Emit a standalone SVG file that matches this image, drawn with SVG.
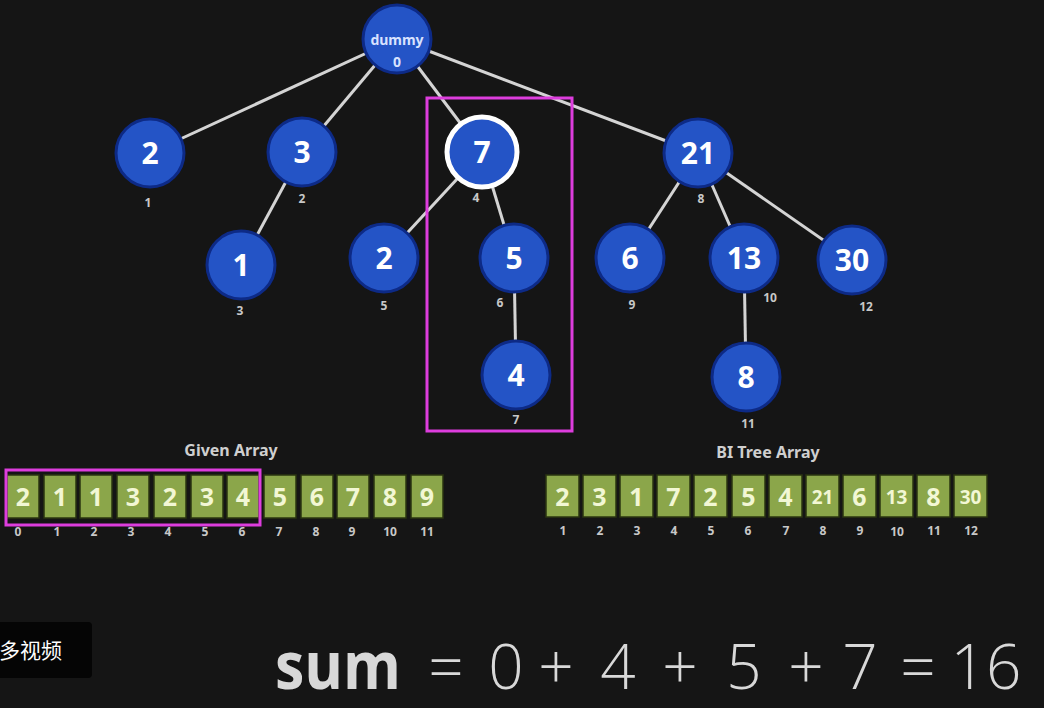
<svg xmlns="http://www.w3.org/2000/svg" width="1044" height="708" viewBox="0 0 1044 708">
<style>
.bg{fill:#151515}
.edge{stroke:#d4d4d4;stroke-width:3;fill:none}
.node{fill:#2454c6;stroke:#0d2a86;stroke-width:3}
.hl{fill:#2454c6;stroke:#ffffff;stroke-width:5}
.nt{font-family:"Noto Sans","DejaVu Sans",sans-serif;font-weight:bold;font-size:30px;fill:#ffffff;text-anchor:middle}
.idx{font-family:"Noto Sans","DejaVu Sans",sans-serif;font-weight:bold;font-size:12px;fill:#c8c8c8;text-anchor:middle}
.cell{fill:#8ba64a;stroke:#2a3410;stroke-width:1.5}
.ct{font-family:"Noto Sans","DejaVu Sans",sans-serif;font-weight:bold;font-size:25px;fill:#f2f7d4;text-anchor:middle}
.cts{font-size:19px}
.title{font-family:"Noto Sans","DejaVu Sans",sans-serif;font-weight:bold;font-size:16px;fill:#cfcfcf;text-anchor:middle}
.mag{fill:none;stroke:#dd3ddd;stroke-width:3}
</style>
<rect class="bg" x="0" y="0" width="1044" height="708"/>

<g id="connectors">
<line class="edge" x1="397" y1="39" x2="150" y2="153"/>
<line class="edge" x1="397" y1="39" x2="302" y2="152"/>
<line class="edge" x1="397" y1="39" x2="482" y2="152"/>
<line class="edge" x1="397" y1="39" x2="698" y2="153"/>
<line class="edge" x1="302" y1="152" x2="241" y2="265"/>
<line class="edge" x1="482" y1="152" x2="384" y2="258"/>
<line class="edge" x1="482" y1="152" x2="514" y2="258"/>
<line class="edge" x1="514" y1="258" x2="516" y2="375"/>
<line class="edge" x1="698" y1="153" x2="630" y2="258"/>
<line class="edge" x1="698" y1="153" x2="744" y2="258"/>
<line class="edge" x1="698" y1="153" x2="852" y2="260"/>
<line class="edge" x1="744" y1="258" x2="746" y2="377"/>
</g>

<g id="node-dummy">
<circle class="node" cx="397" cy="39" r="34"/>
<text x="397" y="45" text-anchor="middle" font-family="Noto Sans, DejaVu Sans, sans-serif" font-weight="bold" font-size="14" fill="#d8e2ff">dummy</text>
<text x="397" y="67" text-anchor="middle" font-family="Noto Sans, DejaVu Sans, sans-serif" font-weight="bold" font-size="14" fill="#d8e2ff">0</text>
</g>
<g id="node-1"><circle class="node" cx="150" cy="153" r="34"/><text class="nt" x="150" y="164">2</text><text class="idx" x="148" y="207">1</text></g>
<g id="node-2"><circle class="node" cx="302" cy="152" r="34"/><text class="nt" x="302" y="163">3</text><text class="idx" x="302" y="203">2</text></g>
<g id="node-3"><circle class="node" cx="241" cy="265" r="34"/><text class="nt" x="241" y="276">1</text><text class="idx" x="240" y="315">3</text></g>
<g id="node-4"><circle class="hl" cx="482" cy="152" r="35"/><text class="nt" x="482" y="163">7</text><text class="idx" x="476" y="202">4</text></g>
<g id="node-5"><circle class="node" cx="384" cy="258" r="34"/><text class="nt" x="384" y="269">2</text><text class="idx" x="384" y="310">5</text></g>
<g id="node-6"><circle class="node" cx="514" cy="258" r="34"/><text class="nt" x="514" y="269">5</text><text class="idx" x="500" y="307">6</text></g>
<g id="node-7"><circle class="node" cx="516" cy="375" r="34"/><text class="nt" x="516" y="386">4</text><text class="idx" x="516" y="424">7</text></g>
<g id="node-8"><circle class="node" cx="698" cy="153" r="34"/><text class="nt" x="698" y="164">21</text><text class="idx" x="701" y="203">8</text></g>
<g id="node-9"><circle class="node" cx="630" cy="258" r="34"/><text class="nt" x="630" y="269">6</text><text class="idx" x="632" y="309">9</text></g>
<g id="node-10"><circle class="node" cx="744" cy="258" r="34"/><text class="nt" x="744" y="269">13</text><text class="idx" x="770" y="302">10</text></g>
<g id="node-11"><circle class="node" cx="746" cy="377" r="34"/><text class="nt" x="746" y="388">8</text><text class="idx" x="748" y="428">11</text></g>
<g id="node-12"><circle class="node" cx="852" cy="260" r="34"/><text class="nt" x="852" y="271">30</text><text class="idx" x="866" y="311">12</text></g>

<rect id="highlight-tree" class="mag" x="427" y="98" width="145" height="333"/>

<g id="given-array">
<text class="title" x="231" y="456">Given Array</text>
<rect class="cell" x="7" y="475" width="32" height="43"/><text class="ct" x="23" y="506">2</text>
<rect class="cell" x="44" y="475" width="32" height="43"/><text class="ct" x="60" y="506">1</text>
<rect class="cell" x="80" y="475" width="32" height="43"/><text class="ct" x="96" y="506">1</text>
<rect class="cell" x="117" y="475" width="32" height="43"/><text class="ct" x="133" y="506">3</text>
<rect class="cell" x="154" y="475" width="32" height="43"/><text class="ct" x="170" y="506">2</text>
<rect class="cell" x="191" y="475" width="32" height="43"/><text class="ct" x="207" y="506">3</text>
<rect class="cell" x="227" y="475" width="32" height="43"/><text class="ct" x="243" y="506">4</text>
<rect class="cell" x="264" y="475" width="32" height="43"/><text class="ct" x="280" y="506">5</text>
<rect class="cell" x="301" y="475" width="32" height="43"/><text class="ct" x="317" y="506">6</text>
<rect class="cell" x="337" y="475" width="32" height="43"/><text class="ct" x="353" y="506">7</text>
<rect class="cell" x="374" y="475" width="32" height="43"/><text class="ct" x="390" y="506">8</text>
<rect class="cell" x="411" y="475" width="32" height="43"/><text class="ct" x="427" y="506">9</text>
<text class="idx" x="18" y="536">0</text>
<text class="idx" x="57" y="536">1</text>
<text class="idx" x="94" y="536">2</text>
<text class="idx" x="131" y="536">3</text>
<text class="idx" x="168" y="536">4</text>
<text class="idx" x="205" y="536">5</text>
<text class="idx" x="242" y="536">6</text>
<text class="idx" x="279" y="536">7</text>
<text class="idx" x="316" y="536">8</text>
<text class="idx" x="352" y="536">9</text>
<text class="idx" x="390" y="536">10</text>
<text class="idx" x="427" y="536">11</text>
</g>
<rect id="highlight-array" class="mag" x="6" y="470" width="254" height="55"/>

<g id="bi-tree-array">
<text class="title" x="768" y="458">BI Tree Array</text>
<rect class="cell" x="546" y="475" width="33" height="42"/><text class="ct" x="562.5" y="506">2</text>
<rect class="cell" x="583" y="475" width="33" height="42"/><text class="ct" x="599.5" y="506">3</text>
<rect class="cell" x="620" y="475" width="33" height="42"/><text class="ct" x="636.5" y="506">1</text>
<rect class="cell" x="657" y="475" width="33" height="42"/><text class="ct" x="673.5" y="506">7</text>
<rect class="cell" x="694" y="475" width="33" height="42"/><text class="ct" x="710.5" y="506">2</text>
<rect class="cell" x="732" y="475" width="33" height="42"/><text class="ct" x="748.5" y="506">5</text>
<rect class="cell" x="769" y="475" width="33" height="42"/><text class="ct" x="785.5" y="506">4</text>
<rect class="cell" x="806" y="475" width="33" height="42"/><text class="ct cts" x="822.5" y="504">21</text>
<rect class="cell" x="843" y="475" width="33" height="42"/><text class="ct" x="859.5" y="506">6</text>
<rect class="cell" x="880" y="475" width="33" height="42"/><text class="ct cts" x="896.5" y="504">13</text>
<rect class="cell" x="917" y="475" width="33" height="42"/><text class="ct" x="933.5" y="506">8</text>
<rect class="cell" x="954" y="475" width="33" height="42"/><text class="ct cts" x="970.5" y="504">30</text>
<text class="idx" x="563" y="535">1</text>
<text class="idx" x="600" y="535">2</text>
<text class="idx" x="637" y="535">3</text>
<text class="idx" x="674" y="535">4</text>
<text class="idx" x="711" y="535">5</text>
<text class="idx" x="748" y="535">6</text>
<text class="idx" x="786" y="535">7</text>
<text class="idx" x="823" y="535">8</text>
<text class="idx" x="860" y="535">9</text>
<text class="idx" x="897" y="536">10</text>
<text class="idx" x="934" y="535">11</text>
<text class="idx" x="971" y="535">12</text>
</g>

<g id="caption">
<rect x="-6" y="622" width="98" height="56" rx="4" fill="#050505"/>
<text x="-1" y="658" font-family="Noto Sans CJK SC, sans-serif" font-size="21" fill="#ffffff">多视频</text>
</g>

<g id="sum">
<text x="275" y="689" font-family="Open Sans, Noto Sans, sans-serif" font-weight="bold" font-size="66" fill="#d8d8d8" textLength="126" lengthAdjust="spacingAndGlyphs">sum</text>
<text y="689" font-family="Open Sans, Noto Sans, sans-serif" font-weight="300" font-size="62" fill="#d8d8d8" text-anchor="middle"><tspan x="446">=</tspan><tspan x="506">0</tspan><tspan x="556">+</tspan><tspan x="618">4</tspan><tspan x="680">+</tspan><tspan x="744">5</tspan><tspan x="806">+</tspan><tspan x="860">7</tspan><tspan x="918">=</tspan><tspan x="986">16</tspan></text>
</g>
</svg>
